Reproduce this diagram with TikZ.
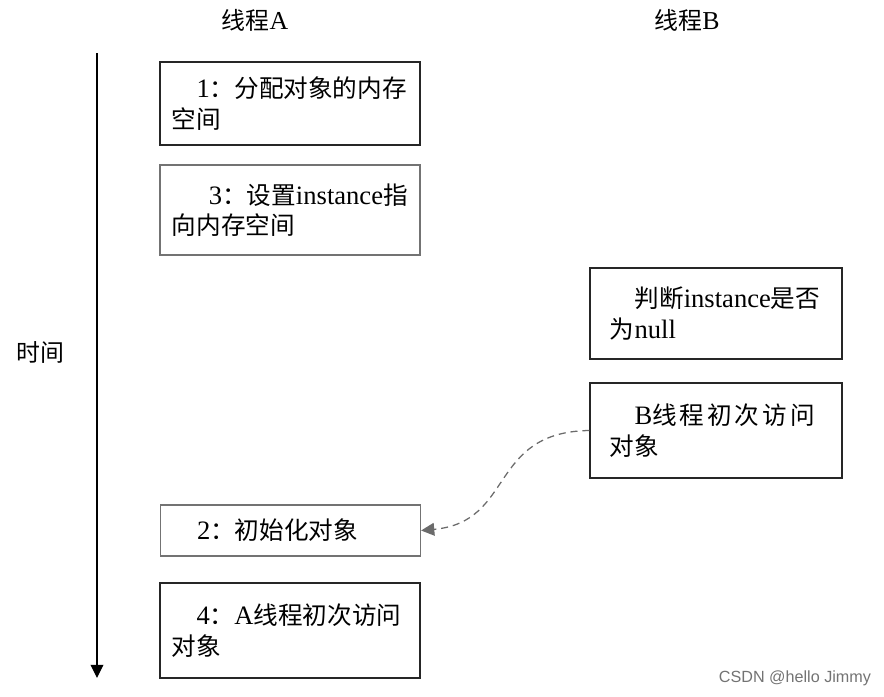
\documentclass[tikz,border=0pt]{standalone}
\usepackage{fontspec}
\setmainfont{Liberation Serif}[Scale=1.08]
\newfontfamily\cjk{Noto Sans CJK SC}
\newfontfamily\marksans{Liberation Sans}
\usetikzlibrary{arrows.meta}

\newcommand{\en}[1]{{\rmfamily #1}}

\begin{document}
\begin{tikzpicture}[x=0.025cm, y=-0.025cm,
  slot/.style={draw=#1, line width=0.8pt, minimum width=6.5cm,
               text width=5.9cm, inner xsep=0.3cm, align=left,
               font=\cjk\fontsize{17.5}{21.5}\selectfont},
  slot/.default=black!85,
  slotb/.style={slot, text width=5.3cm, inner xsep=0.5cm, minimum width=6.3cm},
  title/.style={font=\cjk\fontsize{17}{20}\selectfont},
  flow/.style={-{Triangle[length=0.33cm, width=0.32cm]}, line width=0.8pt}]

  \useasboundingbox (0,0) rectangle (884,697);

  \node[title] (ta)   at (255, 20) {线程\en{A}};
  \node[title] (tb)   at (687, 20) {线程\en{B}};
  \node[title] (time) at ( 40,352) {时间};

  % time axis
  \coordinate (t0) at (97,53);
  \coordinate (t1) at (97,678);
  \draw[flow] (t0) -- (t1);

  % thread A
  \node[slot, minimum height=2.075cm]      (alloc) at (290,103.5)
       {\hspace*{1em}\en{1}：分配对象的内存\\空间};
  \node[slot=black!55, minimum height=2.25cm] (point) at (290,210)
       {\hspace*{1.5em}\en{3}：设置\en{instance}指\\向内存空间};
  \node[slot=black!55, minimum height=1.275cm] (init) at (290.5,530.5)
       {\hspace*{1em}\en{2}：初始化对象};
  \node[slot, minimum height=2.375cm]      (usea)  at (290,630.5)
       {\hspace*{1em}\en{4}：\en{A}线程初次访问\\对象};

  % thread B
  \node[slotb, minimum height=2.275cm] (check)   at (716,313.5)
       {\hspace*{1em}判断\en{instance}是否\\为\en{null}};
  \node[slotb, minimum height=2.375cm] (useb)    at (716,430.5)
       {\hspace*{1em}{\addfontfeature{LetterSpace=12}\en{B}线程初次访问}\\对象};

  \draw[flow, dashed, dash pattern=on 5pt off 3.5pt, draw=black!58, line width=0.9pt]
    (useb.west) .. controls (488,432) and (515,522) .. (init.east);

  \node[font=\marksans\fontsize{11.5}{13}\selectfont, text=black!55] (mark)
       at (795,678) {CSDN @hello Jimmy};

\end{tikzpicture}
\end{document}
